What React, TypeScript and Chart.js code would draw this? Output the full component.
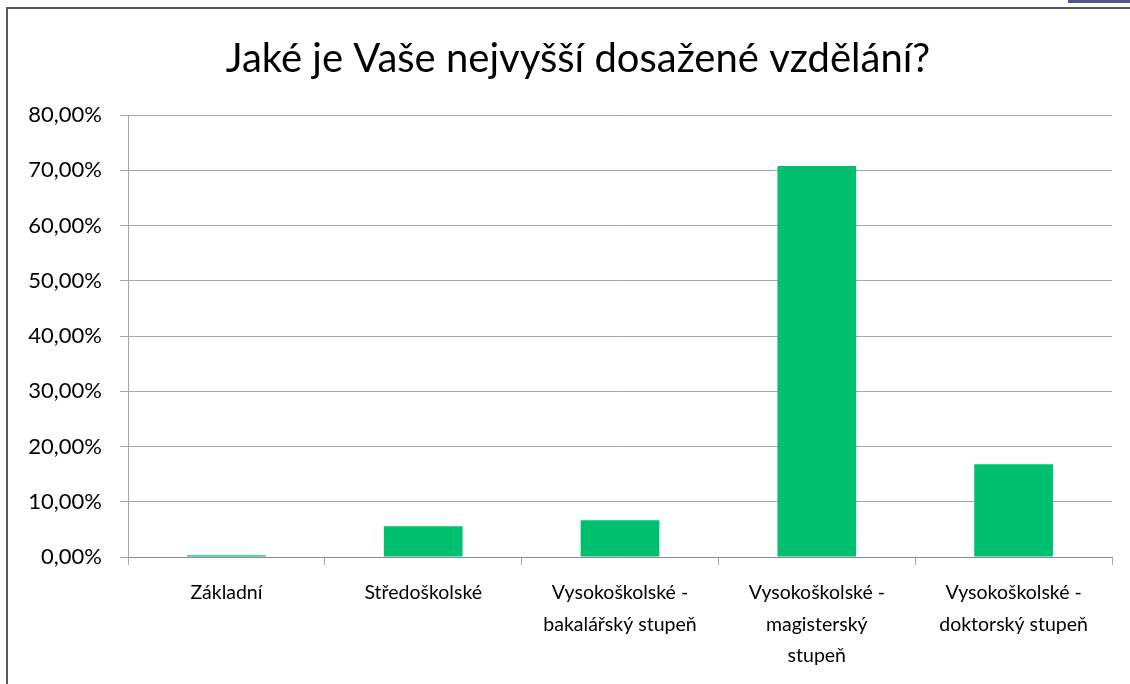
import React, { useEffect, useRef } from "react";
import { Chart, registerables } from "chart.js";

Chart.register(...registerables);

const titleText = "Jaké je Vaše nejvyšší dosažené vzdělání?";
const categories: (string | string[])[] = [
  "Základní",
  "Středoškolské",
  ["Vysokoškolské -", "bakalářský stupeň"],
  ["Vysokoškolské -", "magisterský", "stupeň"],
  ["Vysokoškolské -", "doktorský stupeň"],
];
const values = [0.3, 5.56, 6.64, 70.77, 16.78];
const yTicksMax = 80;
const yStep = 10;

const FONT = "Lato, 'Noto Sans', sans-serif";

const titlePlugin = {
  id: "excelTitle",
  afterDraw(chart: any) {
    const ctx = chart.ctx;
    ctx.save();
    ctx.font = `40px ${FONT}`;
    ctx.fillStyle = "#000000";
    ctx.textAlign = "center";
    ctx.textBaseline = "alphabetic";
    ctx.fillText(titleText, 570, 63);
    ctx.restore();
  },
};

export default function App() {
  const ref = useRef<HTMLCanvasElement | null>(null);
  useEffect(() => {
    if (!ref.current) return;
    const chart = new Chart(ref.current, {
      type: "bar",
      data: {
        labels: categories,
        datasets: [
          {
            data: values,
            backgroundColor: "#00BF6F",
            borderWidth: 0,
            categoryPercentage: 1,
            barPercentage: 0.4,
          },
        ],
      },
      options: {
        animation: false,
        responsive: false,
        maintainAspectRatio: false,
        layout: { padding: { top: 106, right: 18, left: 0, bottom: 0 } },
        plugins: {
          legend: { display: false },
          title: { display: false },
          tooltip: { enabled: false },
        },
        scales: {
          x: {
            afterFit: (s: any) => {
              s.height = 127;
            },
            grid: {
              offset: true,
              drawOnChartArea: false,
              drawTicks: true,
              tickLength: 8,
              color: "#a6a6a6",
            },
            border: { display: true, color: "#8c8c8c", width: 1 },
            ticks: {
              color: "#000000",
              font: { family: FONT, size: 19.5, lineHeight: 1.62 },
              padding: 12,
              maxRotation: 0,
              autoSkip: false,
            },
          },
          y: {
            min: 0,
            max: yTicksMax,
            afterFit: (s: any) => {
              s.width = 120;
            },
            grid: {
              color: "#a6a6a6",
              drawTicks: true,
              tickLength: 8,
            },
            border: { display: true, color: "#a6a6a6", width: 1 },
            ticks: {
              stepSize: yStep,
              color: "#000000",
              font: { family: FONT, size: 22 },
              padding: 18,
              callback: (v: any) => Number(v).toFixed(2).replace(".", ",") + "%",
            },
          },
        },
      },
      plugins: [titlePlugin],
    });
    return () => chart.destroy();
  }, []);

  return (
    <div>
      <div
        style={{
          position: "absolute",
          left: 1068,
          top: 0,
          width: 62,
          height: 3,
          background: "#55558f",
        }}
      />
      <div
        style={{
          position: "absolute",
          left: 6,
          top: 7,
          width: 1122,
          height: 675,
          borderLeft: "2px solid #595959",
          borderTop: "2px solid #595959",
          background: "#ffffff",
          overflow: "hidden",
        }}
      >
        <canvas ref={ref} width={1122} height={675} style={{ display: "block" }} />
      </div>
    </div>
  );
}
